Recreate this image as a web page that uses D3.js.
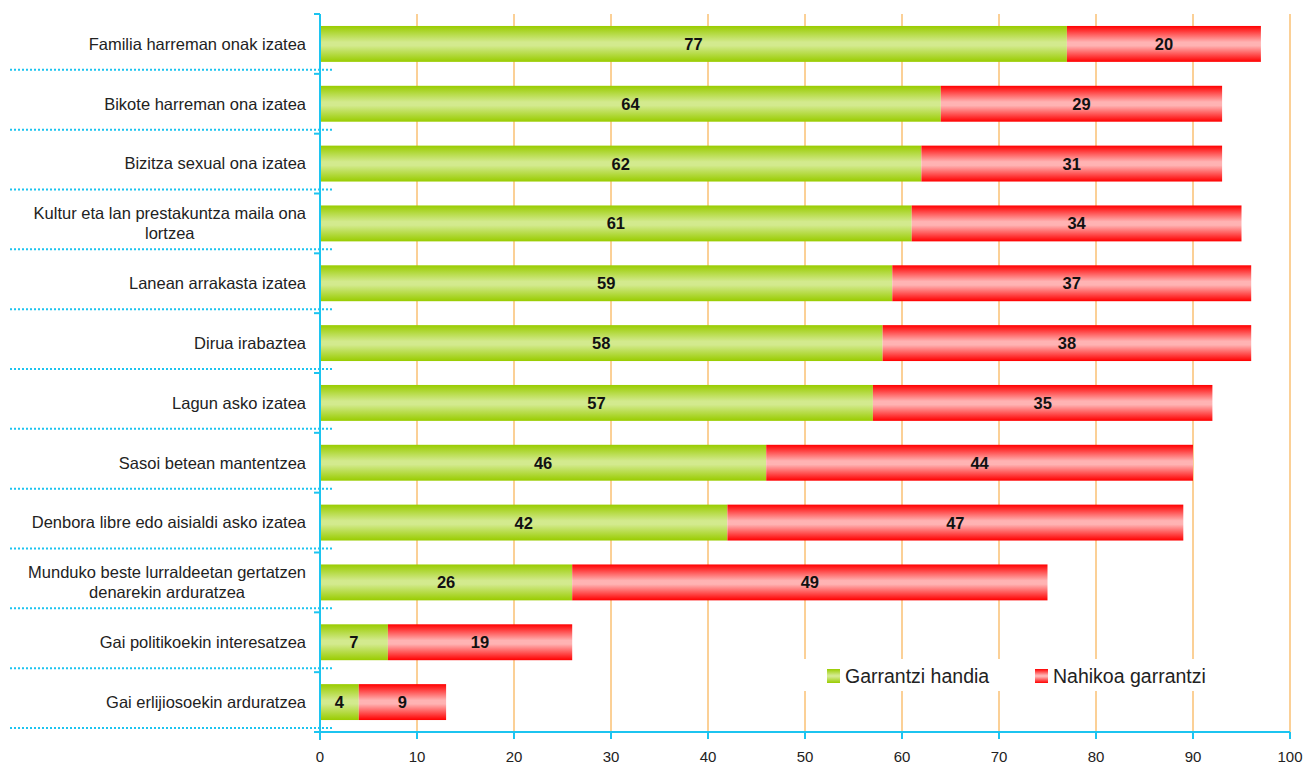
<!DOCTYPE html>
<html><head><meta charset="utf-8">
<script src="https://cdn.jsdelivr.net/npm/d3@7/dist/d3.min.js"></script>
<style>body{margin:0;background:#fff;} svg{display:block;font-family:"Liberation Sans",Arial,sans-serif;}</style>
</head><body>
<svg id="c" width="1303" height="764"></svg>
<script>
const categories = [
  ["Familia harreman onak izatea"],
  ["Bikote harreman ona izatea"],
  ["Bizitza sexual ona izatea"],
  ["Kultur eta lan prestakuntza maila ona", "lortzea"],
  ["Lanean arrakasta izatea"],
  ["Dirua irabaztea"],
  ["Lagun asko izatea"],
  ["Sasoi betean mantentzea"],
  ["Denbora libre edo aisialdi asko izatea"],
  ["Munduko beste lurraldeetan gertatzen", "denarekin arduratzea"],
  ["Gai politikoekin interesatzea"],
  ["Gai erlijiosoekin arduratzea"]
];
const garrantziHandia = [77, 64, 62, 61, 59, 58, 57, 46, 42, 26, 7, 4];
const nahikoaGarrantzi = [20, 29, 31, 34, 37, 38, 35, 44, 47, 49, 19, 9];
const seriesNames = ["Garrantzi handia", "Nahikoa garrantzi"];
const xTicks = [0, 10, 20, 30, 40, 50, 60, 70, 80, 90, 100];

const svg = d3.select("#c");
const pL = 320, pR = 1290, pT = 14, pB = 732;
const x = d3.scaleLinear().domain([0, 100]).range([pL, pR]);
const y = d3.scaleBand().domain(d3.range(categories.length)).range([pT, pB]).paddingInner(0.4).paddingOuter(0.2);
const yb = d3.scaleBand().domain(d3.range(categories.length)).range([pT, pB]);
const cyan = "#1cc4f0", orange = "#f7a12e";

const defs = svg.append("defs");
function grad(id, edge, mid) {
  const g = defs.append("linearGradient").attr("id", id).attr("x1", 0).attr("x2", 0).attr("y1", 0).attr("y2", 1);
  g.append("stop").attr("offset", "0%").attr("stop-color", edge);
  g.append("stop").attr("offset", "45%").attr("stop-color", mid);
  g.append("stop").attr("offset", "55%").attr("stop-color", mid);
  g.append("stop").attr("offset", "100%").attr("stop-color", edge);
}
grad("gG", "#99cc00", "#d3ea8e");
grad("gR", "#ff0000", "#ffb3b3");

// gridlines
svg.append("g").selectAll("line").data(xTicks.filter(d => d > 0)).join("line")
  .attr("x1", d => x(d)).attr("x2", d => x(d)).attr("y1", pT).attr("y2", pB)
  .attr("stroke", orange).attr("stroke-width", 1);

// dotted separators
svg.append("g").selectAll("line").data(d3.range(categories.length)).join("line")
  .attr("x1", 10).attr("x2", 333)
  .attr("y1", d => yb(d) + yb.bandwidth() - 4).attr("y2", d => yb(d) + yb.bandwidth() - 4)
  .attr("stroke", cyan).attr("stroke-width", 2).attr("stroke-dasharray", "2,2");

// bars
const g = svg.append("g");
categories.forEach((c, i) => {
  const a = garrantziHandia[i], b = nahikoaGarrantzi[i];
  g.append("rect").attr("x", x(0)).attr("y", y(i)).attr("width", x(a) - x(0)).attr("height", y.bandwidth()).attr("fill", "url(#gG)");
  g.append("rect").attr("x", x(a)).attr("y", y(i)).attr("width", x(a + b) - x(a)).attr("height", y.bandwidth()).attr("fill", "url(#gR)");
  g.append("text").attr("x", (x(0) + x(a)) / 2).attr("y", y(i) + y.bandwidth() / 2).attr("dy", "0.36em")
    .attr("text-anchor", "middle").attr("font-weight", "bold").attr("font-size", 16.5).attr("fill", "#111").text(a);
  g.append("text").attr("x", (x(a) + x(a + b)) / 2).attr("y", y(i) + y.bandwidth() / 2).attr("dy", "0.36em")
    .attr("text-anchor", "middle").attr("font-weight", "bold").attr("font-size", 16.5).attr("fill", "#111").text(b);
  const t = svg.append("text").attr("text-anchor", "middle").attr("font-size", 16.5).attr("fill", "#222");
  const cy = yb(i) + yb.bandwidth() / 2;
  const n = c.length;
  const spans = c.map((line, k) =>
    t.append("tspan").attr("y", cy + (k - (n - 1) / 2) * 20).attr("dy", "0.35em").text(line));
  const maxW = d3.max(spans, s => s.node().getComputedTextLength());
  spans.forEach(s => s.attr("x", 306 - maxW / 2));
});

// left axis
const la = svg.append("g");
la.append("line").attr("x1", pL).attr("x2", pL).attr("y1", pT).attr("y2", pB + 8).attr("stroke", cyan).attr("stroke-width", 2);
la.selectAll("line.t").data(d3.range(categories.length + 1)).join("line").attr("class", "t")
  .attr("x1", pL - 6).attr("x2", pL).attr("y1", d => pT + d * yb.step()).attr("y2", d => pT + d * yb.step())
  .attr("stroke", cyan).attr("stroke-width", 2);

// bottom axis
const ba = svg.append("g");
ba.append("line").attr("x1", pL - 6).attr("x2", pR).attr("y1", pB).attr("y2", pB).attr("stroke", cyan).attr("stroke-width", 2);
ba.selectAll("line.t").data(xTicks).join("line").attr("class", "t")
  .attr("x1", d => x(d)).attr("x2", d => x(d)).attr("y1", pB).attr("y2", pB + 7)
  .attr("stroke", cyan).attr("stroke-width", 2);
ba.selectAll("text").data(xTicks).join("text")
  .attr("x", d => x(d)).attr("y", 757).attr("dy", "0.35em").attr("text-anchor", "middle")
  .attr("font-size", 15).attr("fill", "#222").text(d => d);

// legend
const lg = svg.append("g");
lg.append("rect").attr("x", 800).attr("y", 659).attr("width", 420).attr("height", 32).attr("fill", "#fff");
const lx = [827, 1035];
seriesNames.forEach((s, i) => {
  lg.append("rect").attr("x", lx[i]).attr("y", 669).attr("width", 13).attr("height", 14).attr("fill", i ? "url(#gR)" : "url(#gG)");
  lg.append("text").attr("x", lx[i] + 18).attr("y", 676).attr("dy", "0.35em").attr("font-size", 19.5).attr("fill", "#222").text(s);
});
</script>
</body></html>
